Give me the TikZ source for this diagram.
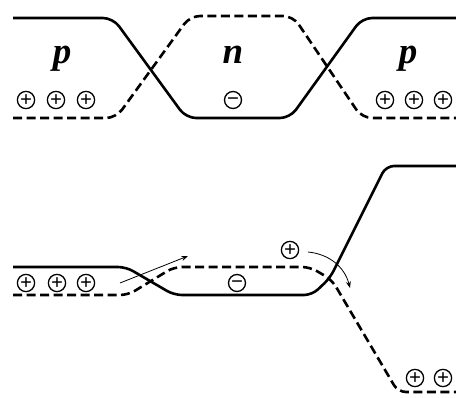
\documentclass[tikz,border=0pt]{standalone}
\usepackage{fontspec}
\setmainfont{Liberation Serif}[BoldItalicFont={Liberation Serif Bold Italic}]
\usetikzlibrary{arrows.meta}
\tikzset{
  band/.style={line width=2.6pt, rounded corners=10pt},
  bandd/.style={band, dash pattern=on 9pt off 4.5pt},
  charge/.style={circle, draw, line width=1.3pt, inner sep=0pt, minimum size=17pt, text height=12.4pt, text depth=0pt, font=\fontsize{21}{21}\selectfont\bfseries},
  region/.style={font=\fontsize{37}{40}\selectfont\bfseries\itshape, anchor=base}
}
\begin{document}
\begin{tikzpicture}[x=1pt, y=-1pt, >=Stealth]
            \useasboundingbox (0,0) rectangle (456,397);
            % Upper panel: bands with no bias
            \draw[band] (13,18) -- (113,18) -- (186,118) -- (290,118) -- (362,18) -- (456,18);
            \draw[bandd] (13,118) -- (116,118) -- (190,16) -- (293,16) -- (362,118) -- (456,118);

            % Region labels
            \node[region] (p1) at (62,63) {p};
            \node[region] (n1) at (233,63) {n};
            \node[region] (p2) at (408,63) {p};

            % Charges
            \node[charge] (h1) at (26,100) {+};
            \node[charge] (h2) at (56,100) {+};
            \node[charge] (h3) at (86,100) {+};
            \node[charge, text height=10.6pt] (e1) at (233,100) {−};
            \node[charge] (h4) at (385,100) {+};
            \node[charge] (h5) at (414,100) {+};
            \node[charge] (h6) at (443,100) {+};

            % Lower panel: bands under bias
            \draw[band, rounded corners=8pt] (13,267) -- (126,267) -- (174,295) -- (312,295) -- (330,278) -- (386,166) -- (456,166);
            \draw[bandd, rounded corners=8pt] (13,295) -- (128,295) -- (174,267) -- (310,267) -- (332,280) -- (398,392) -- (456,392);

            % Charges
            \node[charge] (h7) at (26,283) {+};
            \node[charge] (h8) at (57,283) {+};
            \node[charge] (h9) at (86,283) {+};
            \node[charge, text height=10.6pt] (e2) at (237,283) {−};
            \node[charge] (h10) at (290,250) {+};
            \node[charge] (h11) at (415,378) {+};
            \node[charge] (h12) at (443,378) {+};

            % Carrier flow
            \coordinate (a1) at (120,283);
            \coordinate (a2) at (188,256);
            \coordinate (b1) at (308,252);
            \coordinate (b2) at (350,288);
            \draw[->, line width=0.8pt] (a1) -- (a2);
            \draw[->, line width=0.8pt] (b1) to[bend left=35] (b2);
        \end{tikzpicture}
\end{document}
